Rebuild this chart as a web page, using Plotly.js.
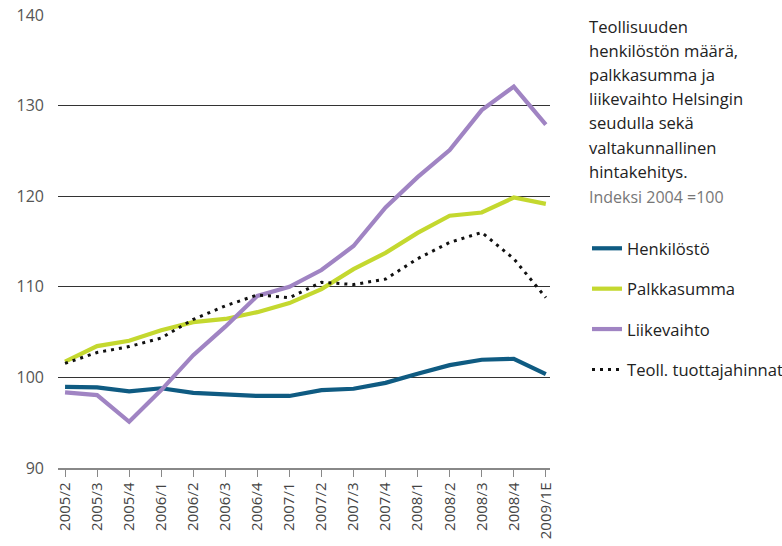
<!DOCTYPE html>
<html>
<head>
<meta charset="utf-8">
<script src="https://cdn.plot.ly/plotly-3.0.1.min.js"></script>
<style>html,body{margin:0;padding:0;background:#fff;}#chart{width:782px;height:546px;}</style>
</head>
<body>
<div id="chart"></div>
<script>
const categories = ["2005/2","2005/3","2005/4","2006/1","2006/2","2006/3","2006/4","2007/1","2007/2","2007/3","2007/4","2008/1","2008/2","2008/3","2008/4","2009/1E"];
const henkilosto = [98.95, 98.9, 98.45, 98.8, 98.3, 98.1, 97.95, 97.95, 98.6, 98.75, 99.4, 100.4, 101.35, 101.95, 102.05, 100.35];
const palkkasumma = [101.75, 103.45, 104.05, 105.2, 106.1, 106.45, 107.2, 108.2, 109.75, 111.95, 113.75, 115.95, 117.85, 118.2, 119.85, 119.15];
const liikevaihto = [98.35, 98.05, 95.1, 98.6, 102.45, 105.6, 109.0, 110.0, 111.85, 114.5, 118.75, 122.1, 125.1, 129.5, 132.1, 127.9];
const tuottajahinnat = [101.55, 102.75, 103.4, 104.35, 106.4, 107.9, 109.1, 108.8, 110.5, 110.25, 110.85, 113.1, 114.9, 116.0, 113.1, 108.8];
const seriesNames = ["Henkilöstö", "Palkkasumma", "Liikevaihto", "Teoll. tuottajahinnat"];
const titleLines = ["Teollisuuden", "henkilöstön määrä,", "palkkasumma ja", "liikevaihto Helsingin", "seudulla sekä", "valtakunnallinen", "hintakehitys."];
const subtitle = "Indeksi 2004 =100";
const yTicks = [90, 100, 110, 120, 130, 140];

const FONT = "'Open Sans', 'Noto Sans', sans-serif";
const colors = ["#0f5b82", "#c4d82f", "#a084c3", "#111111"];
const data = [henkilosto, palkkasumma, liikevaihto, tuottajahinnat].map((vals, i) => ({
  type: "scatter",
  mode: "lines",
  x: categories,
  y: vals,
  name: seriesNames[i],
  legendgroup: "g" + i,
  line: i === 3 ? {color: colors[i], width: 3, dash: "3px,5px"} : {color: colors[i], width: 4.2},
  hoverinfo: "x+y+name"
}));

const plotL = 58, plotR = 550, plotT = 15, plotB = 468;
function py(pix){ return (plotB - pix) / (plotB - plotT); }
function px(pix){ return (pix - plotL) / (plotR - plotL); }

const annotations = titleLines.map((t, i) => ({
  xref: "paper", yref: "paper", x: px(587), y: py(26 + i * 24.2),
  xanchor: "left", yanchor: "middle", showarrow: false, align: "left",
  text: t, font: {family: FONT, size: 16.6, color: "#222"}
}));
annotations.push({
  xref: "paper", yref: "paper", x: px(587), y: py(197),
  xanchor: "left", yanchor: "middle", showarrow: false, align: "left",
  text: subtitle, font: {family: FONT, size: 16, color: "#777"}
});

const layout = {
  width: 782, height: 546,
  margin: {l: plotL, r: 782 - plotR, t: plotT, b: 546 - plotB, pad: 0, autoexpand: false},
  paper_bgcolor: "#fff", plot_bgcolor: "#fff",
  font: {family: FONT, color: "#444"},
  showlegend: true,
  legend: {
    x: px(587), y: py(231), xanchor: "left", yanchor: "top",
    font: {family: FONT, size: 16.6, color: "#222"},
    traceorder: "grouped", tracegroupgap: 15.8,
    bgcolor: "rgba(0,0,0,0)", itemwidth: 30
  },
  xaxis: {
    type: "category", range: [-0.22, 15.13],
    showgrid: false, zeroline: false,
    showline: true, linecolor: "#888", linewidth: 1.5,
    ticks: "outside", ticklen: 7, tickcolor: "#888", tickwidth: 1,
    tickangle: -90, tickfont: {family: FONT, size: 15, color: "#444"},
    automargin: false,
    fixedrange: true
  },
  yaxis: {
    range: [90, 140], tickvals: yTicks, ticktext: yTicks.map(String),
    showgrid: true, gridcolor: "#333", gridwidth: 1,
    zeroline: false, showline: false,
    ticks: "", ticklabelstandoff: 13,
    tickfont: {family: FONT, size: 16, color: "#555"},
    automargin: false,
    fixedrange: true
  },
  annotations: annotations
};

Plotly.newPlot("chart", data, layout, {displayModeBar: false, staticPlot: true});
</script>
</body>
</html>
